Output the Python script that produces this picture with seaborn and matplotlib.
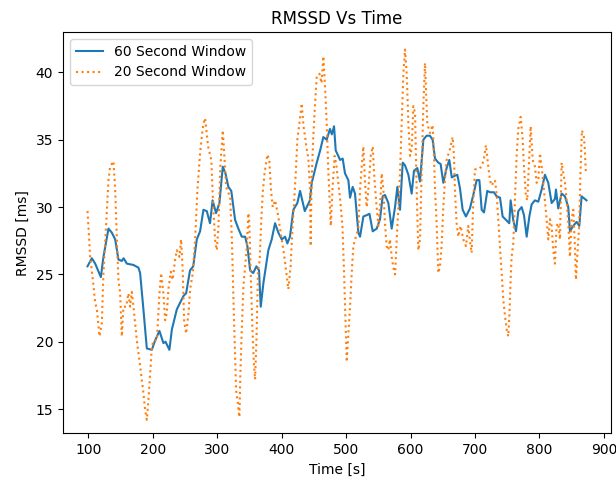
import matplotlib
matplotlib.use("Agg")
import matplotlib.pyplot as plt
import seaborn as sns
import pandas as pd

# 60 second window (time [s], RMSSD [ms])
t60 = [99, 105.7, 110.9, 119.7, 123.7, 131.5, 136.7, 141.9, 147, 152.2, 155, 160, 170.3, 178, 180.6,
       185.7, 191, 198.8, 203.9, 210.6, 216.7, 220, 226, 229.8, 237.5, 242.6, 247.8, 252, 258, 263,
       268.5, 273.6, 278.8, 284, 289, 293, 298.4, 303.6, 308.8, 313, 317.5, 322, 327.9, 333, 338.3,
       343.5, 347, 351.2, 356, 361, 365, 367.7, 371.8, 379.5, 384.7, 389.9, 395, 400.3, 405.5, 409,
       413, 418.3, 424.5, 428.7, 434, 436, 444, 446.8, 454.6, 459.8, 464.8, 470, 475, 478, 481.4,
       484, 488, 490.7, 494.8, 498.4, 503.6, 506.2, 510.3, 513.9, 519.1, 521.7, 526.9, 532, 536.3,
       541.4, 547.6, 552.7, 556.8, 560.4, 565.6, 570.8, 576, 579.6, 583.7, 587.9, 591.5, 596.7,
       601.8, 605.4, 610.6, 614.7, 619.9, 625, 630, 634.3, 638, 643.1, 646.7, 650.9, 656, 660.2,
       664, 667.5, 672.6, 676.7, 680.9, 686, 692.2, 697.4, 702.6, 706.8, 710.4, 714, 719.1, 723.2,
       729.4, 733.6, 738.8, 742.9, 749, 753.2, 755.3, 759.5, 763.6, 767.2, 772.4, 776, 780.2, 784.3,
       787.9, 793, 798.2, 803.4, 808.5, 813.7, 818.9, 824, 825.6, 829.1, 834.4, 839.5, 844.7, 847.3,
       852.4, 857.6, 861.8, 865.4, 870.5, 873]
rmssd60 = [25.6, 26.2, 25.8, 24.8, 26.3, 28.4, 28.1, 27.6, 26.1, 26.0, 26.2, 25.8, 25.7, 25.5, 25.1,
           22.4, 19.5, 19.4, 20.1, 20.8, 19.9, 20.0, 19.4, 20.9, 22.4, 22.9, 23.4, 23.6, 25.3, 25.6,
           27.6, 28.2, 29.8, 29.7, 28.8, 30.5, 29.55, 30.3, 33.0, 32.5, 31.5, 31.2, 29.05, 28.4, 27.8,
           27.8, 27.1, 25.3, 25.1, 25.6, 25.3, 22.6, 24.35, 26.8, 27.6, 28.8, 28.1, 27.6, 27.8, 27.3,
           27.8, 29.8, 30.3, 31.2, 30.1, 29.7, 30.5, 31.8, 33.3, 34.2, 35.2, 35.0, 35.8, 35.4, 36.0,
           34.2, 33.8, 33.5, 33.6, 32.5, 32.0, 30.7, 31.5, 31.0, 28.1, 27.8, 29.3, 29.4, 29.5,
           28.2, 28.4, 29.1, 30.8, 30.9, 30.3, 28.4, 30.0, 31.5, 29.8, 33.3, 33.1, 32.4,
           31.0, 32.7, 32.9, 31.9, 35.0, 35.3, 35.3, 35.0, 33.6, 33.3, 33.2, 31.8, 32.9, 33.5,
           32.2, 32.3, 32.4, 31.4, 29.8, 29.3, 29.9, 30.9, 32.0, 32.0, 29.8, 29.6, 31.2, 31.1,
           31.1, 30.8, 30.7, 29.3, 29.0, 28.8, 30.5, 29.0, 28.2, 29.7, 30.0, 29.4, 27.8, 29.3,
           30.2, 30.5, 30.4, 31.3, 32.4, 31.8, 30.3, 30.6, 31.3, 29.9, 31.0, 30.8, 30.0, 28.2,
           28.6, 28.9, 28.6, 30.8, 30.6, 30.5]

# 20 second window (time [s], RMSSD [ms])
t20 = [99, 103.1, 107.3, 110.9, 113.5, 117.6, 121.2, 123.7, 128, 131.5, 134, 139.3, 141.9, 144.5, 147,
       149.6, 152.2, 154.7, 158.9, 162.5, 165, 167.7, 170.3, 175.5, 180.6, 185.7, 188.4, 191, 193.5,
       196.2, 198.8, 201.3, 206.6, 210.6, 213.2, 216.7, 219.4, 221.9, 224.5, 228.2, 231, 234.9,
       237.5, 241.6, 244.2, 246.8, 248.8, 252, 255.6, 258.2, 262.3, 265.9, 269.5, 273.6, 276.2,
       278.8, 281.4, 286, 291, 294, 297, 299.5, 302, 305, 308.8, 311, 314, 318, 320.2, 323, 326,
       329.5, 332, 334.6, 336, 338, 340.8, 343, 346, 348.6, 350, 352, 354.8, 357, 358.9, 361,
       363.5, 366, 368.5, 371, 373.6, 378, 381, 383.5, 386.3, 390, 395, 397, 400.3, 403.5, 407,
       410.5, 414, 417, 419.6, 422, 424.5, 427.6, 431.3, 434, 436.5, 439, 441.6, 444, 445.2,
       446.5, 449, 451.7, 454.6, 458.7, 462, 464.8, 467.6, 470, 472.7, 475, 476.3, 479, 482.3,
       485, 488, 491, 494.5, 497, 499.5, 501.1, 503.6, 506.2, 508.8, 511.3, 515.4, 519.1, 521.7,
       524.3, 526.9, 529.5, 532, 534.6, 538.3, 541.4, 543.5, 546.6, 550.1, 552.7, 555.3, 557.9,
       560.4, 563, 565.6, 568.2, 570.8, 573.4, 576, 578.6, 581.2, 583.7, 586.3, 588.9, 591.5,
       594.1, 596.7, 599.3, 601.8, 604.4, 607, 609.5, 612.1, 614.7, 617.3, 619.9, 622.5, 624,
       626, 630.2, 634.3, 636.4, 638, 640.5, 643.1, 645.7, 648.2, 650.9, 653.4, 656, 661.2,
       665.3, 667.4, 668.9, 671.5, 674.1, 677.7, 681.9, 686, 689.6, 692.2, 694.8, 697.4, 700,
       705, 710, 713.6, 717, 720.7, 723.2, 725.8, 731, 733.6, 736.2, 738.8, 741.4, 744, 746.6,
       749.2, 751.6, 753.3, 755.3, 756.8, 759.4, 762, 764.6, 767.2, 770.8, 774, 776, 779, 781.1,
       784.2, 786.4, 789.5, 793, 795.6, 798.2, 800.8, 803.4, 806, 808.5, 811.1, 813.7, 816.3,
       818.9, 821.5, 824, 826.6, 829.2, 831.8, 834.4, 837, 839.6, 842.2, 844.7, 847.3, 849.9,
       852.5, 855, 856.6, 858.6, 861.6, 863.6, 865.9, 869, 870.5, 872]
rmssd20 = [29.7, 26.3, 24.6, 22.9, 22.4, 20.4, 21.4, 25.1, 28.8, 32.0, 33.0, 33.4, 31.3, 27.6, 24.6,
           23.6, 20.4, 22.6, 22.6, 23.6, 22.6, 23.7, 22.6, 20.1, 18.2, 16.2, 14.9, 14.2, 15.7,
           17.7, 19.6, 20.1, 20.1, 23.6, 25.1, 23.6, 21.6, 22.1, 23.9, 25.2, 24.6, 26.1,
           26.8, 26.3, 27.6, 25.1, 21.6, 20.6, 22.1, 23.9, 25.1, 27.6, 31.3, 34.0, 35.2,
           36.2, 36.6, 34.5, 33.5, 30.0, 27.5, 26.8, 28.5, 33.0, 35.7, 34.0, 31.5, 31.0, 30.8, 27.5, 22.0,
           16.4, 15.5, 14.4, 17.5, 20.5, 24.1, 25.3, 27.0, 29.55, 28.8, 25.3, 21.0, 18.4, 17.2, 20.0,
           25.3, 26.0, 29.0, 31.2, 32.5, 33.9, 33.5, 31.3, 30.0, 30.5, 29.3, 28.6, 27.6, 26.6, 25.3,
           23.9, 25.6, 28.5, 30.5, 32.5, 35.0, 36.2, 37.7, 36.0, 35.2, 34.3, 33.6, 31.3, 27.1,
           31.8, 35.0, 37.5, 39.7, 39.9, 39.2, 41.2, 38.8, 36.2, 32.5, 30.0, 28.6, 31.3, 33.8,
           33.1, 31.8, 30.5, 28.5, 25.0, 21.0, 18.5, 20.6, 22.6, 25.1, 27.1, 27.8, 28.4, 31.3,
           33.0, 34.5, 31.8, 30.0, 31.3, 33.8, 34.5, 32.5, 30.5, 28.6, 30.0, 32.5, 31.3,
           28.8, 27.1, 26.8, 27.6, 26.3, 25.5, 25.0, 27.6, 30.0, 32.5, 36.2, 39.9, 41.7,
           39.9, 36.2, 33.8, 34.3, 37.5, 37.0, 31.3, 26.8, 27.6, 32.5, 37.5, 40.7, 38.7,
           36.2, 35.5, 36.1, 33.8, 31.3, 28.8, 25.1, 25.6, 27.1, 30.0, 32.0, 33.5, 34.3,
           35.2, 33.8, 31.3, 28.8, 27.8, 28.6, 27.6, 27.1, 28.6, 27.5, 26.6, 30.5, 32.8,
           32.8, 33.0, 33.5, 34.6, 33.0, 32.0, 31.6, 32.0, 31.0, 29.0, 27.1, 25.1, 23.1, 21.9,
           20.9, 20.4, 21.9, 24.6, 26.3, 27.3, 30.5, 33.8, 35.8, 36.7, 35.0, 33.0, 30.8, 30.5,
           33.8, 36.0, 33.5, 33.0, 31.8, 32.0, 34.0, 33.0, 31.8, 30.5, 29.1, 27.6, 29.1,
           28.6, 26.8, 25.8, 28.6, 28.8, 27.6, 33.3, 32.5, 31.8, 30.5, 28.8, 26.3, 29.1,
           29.8, 27.1, 24.6, 26.3, 28.6, 32.5, 35.7, 35.2, 34.2, 32.5]

df60 = pd.DataFrame({"Time": t60, "RMSSD": rmssd60})
df20 = pd.DataFrame({"Time": t20, "RMSSD": rmssd20})

fig, ax = plt.subplots(figsize=(6.16, 4.91), dpi=100)
fig.subplots_adjust(left=0.1023, right=0.9919, top=0.9348, bottom=0.1175)

sns.lineplot(data=df60, x="Time", y="RMSSD", ax=ax, color="#1f77b4", linewidth=1.5,
             label="60 Second Window", sort=False, estimator=None)
sns.lineplot(data=df20, x="Time", y="RMSSD", ax=ax, color="#ff7f0e", linewidth=1.5,
             linestyle=":", label="20 Second Window", sort=False, estimator=None)

ax.set_xlim(61, 911)
ax.set_ylim(13.2, 43.0)
ax.set_title("RMSSD Vs Time")
ax.set_xlabel("Time [s]")
ax.set_ylabel("RMSSD [ms]")
ax.legend(loc="upper left")

fig.savefig("out.png", dpi=100)
